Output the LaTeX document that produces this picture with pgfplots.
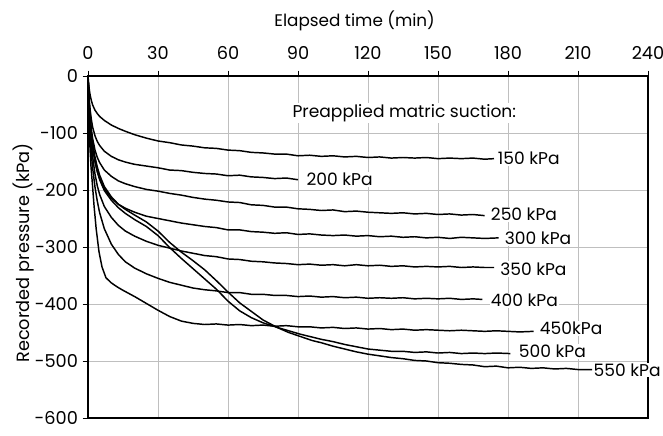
\documentclass[border=0pt]{standalone}
\usepackage{pgfplots}
\pgfplotsset{compat=1.18}
\usepackage{fontspec}
\setmainfont{Poppins}
\newcommand{\lf}{\fontsize{12.6}{15}\selectfont}
\newcommand{\ylf}{\fontsize{13.3}{16}\selectfont}
\newcommand{\tf}{\fontsize{13.3}{15}\selectfont}
\newcommand{\nf}{\fontsize{12.8}{15}\selectfont}
\begin{document}
\begin{tikzpicture}
\begin{axis}[name=ax,
  width=420pt, height=256.5pt, scale only axis,
  xmin=0, xmax=240, ymin=-600, ymax=0,
  xtick={0,30,...,240}, ytick={-600,-500,...,0},
  xticklabel pos=upper, xtick pos=upper, ytick pos=left,
  xlabel near ticks,
  xlabel={Elapsed time (min)}, ylabel={Recorded pressure (kPa)},
  xlabel style={font=\lf, yshift=5pt, xshift=-10pt},
  ylabel style={font=\ylf, yshift=-6.5pt, xshift=-4.5pt},
  xticklabel style={yshift=4.5pt},
  grid=major, major grid style={gray!50, line width=0.6pt},
  tick align=outside, tick style={black, line width=0.6pt}, major tick length=4pt,
  axis line style={line width=0.8pt},
  ticklabel style={font=\tf},
  /pgf/number format/assume math mode=true,
  clip=false,
  cycle list={{black, solid}},
  every axis plot post/.append style={black, line width=1.1pt, line join=round, no markers},
]
% 150 kPa
\addplot coordinates {(0,0) (0.3,-15) (0.7,-28) (1,-35) (1.5,-44) (2,-51) (3,-60) (4,-66) (5,-71) (7,-78) (10,-86) (13,-92) (16,-97) (20,-103) (25,-109) (30,-114) (35,-117) (40,-121) (45,-123) (50,-126) (55,-127) (60,-130) (65,-131) (70,-134) (75,-135) (80,-137) (85,-137) (90,-140) (95,-139) (100,-141) (105,-140) (110,-142) (115,-141) (120,-143) (125,-142) (130,-144) (135,-143) (140,-144) (145,-143) (150,-145) (155,-144) (160,-145) (165,-144) (170,-146) (174,-145)};
% 200 kPa
\addplot coordinates {(0,0) (0.3,-25) (0.6,-45) (1,-62) (1.5,-78) (2,-90) (3,-105) (4,-115) (5,-122) (7,-132) (10,-141) (13,-147) (16,-151) (20,-155) (25,-158) (30,-161) (35,-165) (40,-166) (45,-169) (50,-171) (55,-172) (60,-175) (65,-174) (70,-177) (75,-178) (80,-180) (85,-179) (90,-182)};
% 250 kPa
\addplot coordinates {(0,0) (0.3,-30) (0.6,-55) (1,-75) (1.5,-95) (2,-110) (3,-130) (4,-143) (5,-152) (7,-165) (10,-176) (13,-184) (16,-189) (20,-194) (25,-199) (30,-202) (35,-206) (40,-209) (45,-213) (50,-216) (55,-218) (60,-221) (65,-222) (70,-226) (75,-227) (80,-230) (85,-230) (90,-233) (95,-234) (100,-236) (105,-235) (110,-238) (115,-237) (120,-239) (125,-240) (130,-241) (135,-240) (140,-242) (145,-241) (150,-243) (155,-242) (160,-244) (165,-243) (170,-245)};
% 300 kPa
\addplot coordinates {(0,0) (0.3,-35) (0.6,-60) (1,-85) (1.5,-108) (2,-125) (3,-150) (4,-168) (5,-180) (7,-198) (10,-214) (13,-225) (16,-232) (20,-239) (25,-246) (30,-250) (35,-254) (40,-258) (45,-261) (50,-264) (55,-266) (60,-270) (65,-270) (70,-273) (75,-274) (80,-276) (85,-275) (90,-278) (95,-277) (100,-279) (105,-280) (110,-279) (115,-281) (120,-280) (125,-282) (130,-281) (135,-283) (140,-282) (145,-284) (150,-283) (155,-285) (160,-283) (165,-284) (170,-285) (176,-284)};
% 350 kPa
\addplot coordinates {(0,0) (0.3,-40) (0.6,-70) (1,-95) (1.5,-122) (2,-142) (3,-172) (4,-193) (5,-208) (7,-229) (10,-248) (13,-262) (16,-272) (20,-281) (25,-290) (30,-297) (35,-302) (40,-307) (45,-311) (50,-315) (55,-317) (60,-321) (65,-322) (70,-325) (75,-326) (80,-328) (85,-329) (90,-331) (95,-330) (100,-332) (105,-331) (110,-333) (115,-331) (120,-333) (125,-332) (130,-334) (135,-333) (140,-335) (145,-334) (150,-335) (155,-334) (160,-336) (165,-335) (170,-336) (174,-336)};
% 400 kPa
\addplot coordinates {(0,0) (0.3,-45) (0.6,-80) (1,-110) (1.5,-140) (2,-162) (3,-195) (4,-220) (5,-240) (7,-268) (10,-295) (13,-313) (16,-326) (20,-337) (25,-347) (30,-355) (35,-362) (40,-367) (45,-372) (50,-375) (55,-377) (60,-380) (65,-380) (70,-383) (75,-383) (80,-385) (85,-385) (90,-387) (95,-386) (100,-388) (105,-387) (110,-389) (115,-388) (120,-390) (125,-389) (130,-390) (135,-389) (140,-391) (145,-390) (150,-391) (155,-390) (160,-392) (165,-391) (169,-392)};
% 450 kPa
\addplot coordinates {(0,0) (0.2,-45) (0.5,-90) (0.9,-130) (1.3,-160) (1.8,-185) (2.6,-228) (3.5,-268) (4.7,-308) (6,-335) (7.7,-354) (10,-363) (12.5,-370) (15,-376) (20,-387) (25,-399) (30,-411) (35,-422) (40,-430) (45,-434) (50,-436) (55,-435) (60,-437) (65,-436) (70,-438) (75,-437) (80,-439) (85,-438) (90,-440) (95,-440) (100,-442) (105,-441) (110,-443) (115,-442) (120,-444) (125,-443) (130,-445) (135,-444) (140,-446) (145,-445) (150,-446) (155,-447) (160,-446) (165,-447) (170,-448) (175,-447) (180,-448) (185,-449) (191,-448)};
% 500 kPa
\addplot coordinates {(0,0) (0.3,-32) (0.6,-60) (1,-85) (1.5,-108) (2,-126) (3,-150) (4,-168) (5,-182) (7,-201) (10,-218) (13,-231) (16,-241) (20,-252) (25,-264) (30,-280) (35,-301) (40,-320) (45,-338) (50,-356) (55,-374) (60,-395) (65,-412) (70,-424) (75,-433) (81,-441) (86,-447) (91,-453) (96,-458) (100,-462) (105,-466) (110,-471) (115,-475) (120,-479) (125,-481) (130,-483) (135,-483) (140,-485) (145,-484) (150,-486) (155,-485) (160,-487) (165,-486) (170,-487) (175,-486) (181,-487)};
% 550 kPa
\addplot coordinates {(0,0) (0.3,-30) (0.6,-55) (1,-80) (1.5,-102) (2,-118) (3,-142) (4,-160) (5,-174) (7,-194) (10,-212) (13,-225) (16,-234) (20,-244) (25,-256) (30,-272) (35,-292) (40,-309) (45,-324) (50,-340) (55,-359) (60,-379) (65,-398) (70,-413) (75,-428) (81,-441) (86,-450) (91,-457) (96,-464) (100,-468) (105,-474) (110,-479) (115,-484) (120,-488) (125,-491) (130,-494) (135,-496) (140,-499) (145,-500) (150,-503) (155,-504) (160,-506) (165,-507) (170,-510) (175,-509) (180,-512) (185,-511) (190,-513) (195,-512) (200,-514) (205,-513) (210,-515) (216,-515)};
\begin{scope}[every node/.style={font=\nf, inner sep=1pt, fill=white}]
\node[anchor=west] at (axis cs:87,-65) {Preapplied matric suction:};
\node[anchor=west] at (axis cs:175,-144) {150 kPa};
\node[anchor=west] at (axis cs:93,-182) {200 kPa};
\node[anchor=west] at (axis cs:172,-243) {250 kPa};
\node[anchor=west] at (axis cs:178,-284) {300 kPa};
\node[anchor=west] at (axis cs:176,-339) {350 kPa};
\node[anchor=west] at (axis cs:172,-394) {400 kPa};
\node[anchor=west] at (axis cs:193,-443) {450kPa};
\node[anchor=west] at (axis cs:184,-483) {500 kPa};
\node[anchor=west, inner sep=0.5pt] at (axis cs:216.3,-516) {550 kPa};
\end{scope}
\end{axis}
\pgfresetboundingbox
\path[use as bounding box] ([shift={(-66pt,-13.5pt)}]ax.south west) rectangle ([shift={(11.25pt,57pt)}]ax.north east);
\end{tikzpicture}
\end{document}
